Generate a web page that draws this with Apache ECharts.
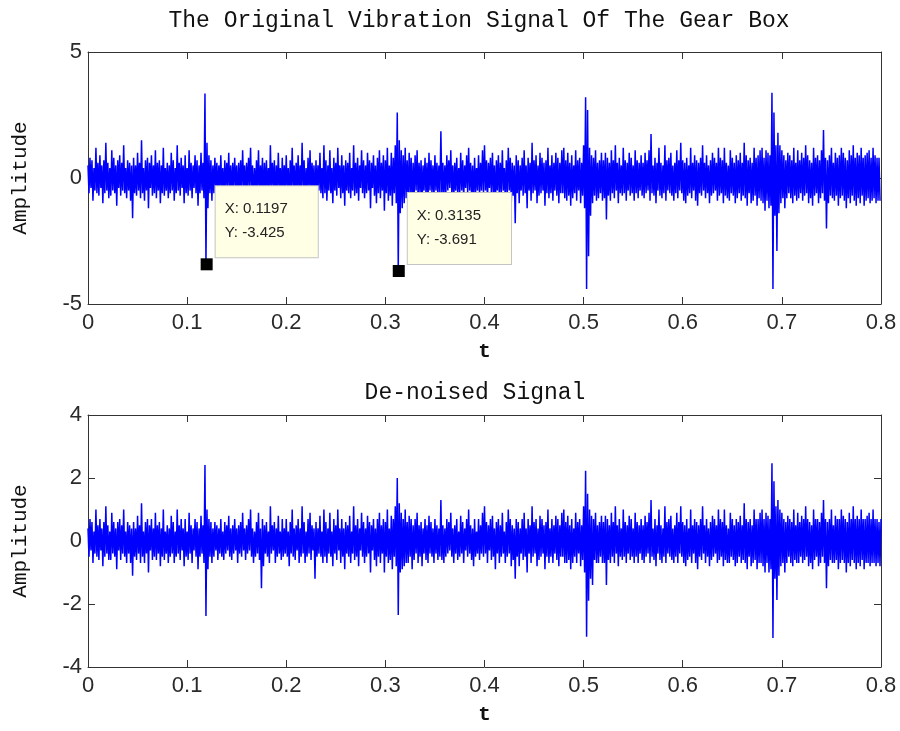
<!DOCTYPE html>
<html>
<head>
<meta charset="utf-8">
<title>Gear box vibration</title>
<script src="https://cdn.jsdelivr.net/npm/echarts@6/dist/echarts.min.js"></script>
<style>
    html, body {margin: 0; padding: 0; background: #fff;}
    #chart {width: 900px; height: 731px;}
</style>
</head>
<body>
<div id="chart"></div>
<script>
// sample spacing in seconds
var sampleStep = 0.001;
var xTicks = [0, 0.1, 0.2, 0.3, 0.4, 0.5, 0.6, 0.7, 0.8];
var topTicks = [-5, 0, 5];
var bottomTicks = [-4, -2, 0, 2, 4];

// original vibration signal (t = 0 .. 0.8)
var origSignal = [
    0.5,-0.6,0.8,-0.4,0.7,-0.9,0.4,-0.5,1.2,-0.6,0.6,-0.7,0.9,-0.4,0.5,-1.0,0.7,-0.6,1.4,-0.5,
    0.6,-0.8,0.4,-0.7,1.1,-0.5,0.8,-0.6,0.5,-1.1,0.7,-0.4,0.9,-0.7,0.6,-0.5,1.3,-0.6,0.4,-0.8,
    0.7,-0.5,0.6,-0.9,0.5,-1.6,0.8,-0.6,0.5,-0.7,1.0,-0.5,0.6,-0.8,1.5,-0.6,0.4,-0.9,0.7,-0.5,
    0.8,-1.2,0.6,-0.4,0.9,-0.7,0.5,-0.6,1.1,-0.8,0.6,-0.5,0.7,-1.0,0.5,-0.6,1.2,-0.7,0.4,-0.5,
    0.6,-0.8,0.5,-0.6,1.0,-0.5,0.7,-0.9,0.4,-0.6,1.3,-0.5,0.6,-0.7,0.8,-0.4,0.5,-1.0,0.9,-0.6,
    0.4,-0.7,1.1,-0.5,0.6,-0.8,0.5,-0.4,0.9,-0.6,0.7,-1.1,0.5,-0.6,1.0,-0.5,0.6,-0.8,3.35,-3.425,
    1.4,-1.2,0.9,-0.6,0.7,-0.9,0.5,-0.6,0.8,-0.4,0.6,-0.7,0.5,-0.5,0.9,-0.6,0.4,-0.8,0.7,
    -0.5,0.6,-0.4,1.0,-0.6,0.5,-0.7,0.6,-0.5,0.8,-0.4,0.5,-0.9,0.6,-0.5,0.7,-0.6,1.1,-0.4,0.5,
    -0.7,0.6,-0.5,0.8,-0.4,1.2,-0.6,0.5,-0.9,0.4,-0.6,0.7,-0.5,1.1,-0.7,0.5,-0.4,0.8,-1.0,0.6,
    -0.5,0.7,-0.6,0.4,-0.8,1.3,-0.5,0.6,-0.4,0.7,-0.9,0.5,-0.6,1.0,-0.5,0.4,-0.7,0.8,-0.6,0.5,
    -0.5,0.9,-0.6,0.4,-1.0,0.7,-0.5,1.2,-0.6,0.5,-0.7,0.6,-0.4,0.9,-0.8,0.5,-0.6,1.4,-0.5,0.7,
    -0.9,0.4,-0.6,0.8,-0.5,1.1,-0.7,0.6,-0.4,0.5,-1.1,0.7,-0.6,0.5,-0.5,1.0,-0.6,0.4,-0.8,1.3,
    -0.6,0.7,-0.9,0.5,-0.5,1.1,-0.6,0.4,-1.0,0.8,-0.5,0.6,-0.7,1.2,-0.4,0.5,-0.8,0.9,-0.6,0.5,
    -1.1,0.7,-0.5,0.6,-0.6,1.0,-0.8,0.4,-0.5,1.3,-0.7,0.6,-0.6,0.8,-0.9,0.5,-0.4,1.1,-0.6,0.7,
    -0.8,0.5,-0.6,1.0,-0.5,0.7,-1.2,0.6,-0.4,0.9,-0.7,0.5,-1.0,0.8,-0.6,1.1,-0.8,0.6,-0.5,0.9,
    -1.3,0.7,-0.6,1.2,-0.9,0.5,-0.7,1.0,-1.1,0.8,-0.6,1.3,-1.0,2.6,-3.691,1.5,-1.4,1.1,-1.2,0.9,
    -1.0,1.2,-0.8,0.7,-0.9,1.0,-0.6,0.8,-1.1,0.6,-0.7,0.9,-0.5,1.1,-0.8,0.6,-0.6,0.7,-1.0,0.5,
    -0.5,0.8,-0.7,0.6,-0.9,1.0,-0.5,0.7,-0.6,0.5,-0.8,0.9,-0.5,0.6,-0.7,0.5,-0.6,1.85,-0.7,0.6,
    -0.8,0.5,-0.6,0.9,-0.5,0.7,-0.4,1.1,-0.6,0.5,-0.9,0.6,-0.5,0.8,-0.7,0.4,-0.6,1.0,-0.5,0.7,
    -0.8,0.5,-0.4,0.9,-0.6,1.2,-0.5,0.6,-0.7,0.5,-1.0,0.8,-0.6,0.4,-0.5,0.9,-0.7,0.6,-0.5,1.1,
    -0.6,1.3,-0.5,0.7,-0.9,0.6,-0.4,0.8,-0.7,1.0,-0.6,0.5,-1.1,0.7,-0.5,0.9,-0.8,0.6,-0.6,1.1,
    -0.5,0.4,-0.9,0.7,-0.6,1.2,-0.5,0.8,-1.0,0.6,-0.7,0.5,-1.8,0.9,-0.6,0.7,-1.0,0.5,-0.5,0.8,
    -0.7,1.1,-0.6,0.5,-1.2,0.8,-0.5,0.6,-0.9,1.4,-0.6,0.7,-0.5,0.9,-1.0,0.5,-0.7,1.0,-0.6,0.8,
    -0.5,0.6,-1.1,0.7,-0.6,1.2,-0.8,0.5,-0.6,0.9,-0.9,0.6,-0.5,1.0,-0.7,0.8,-1.0,0.6,-0.6,1.1,
    -0.6,1.2,-0.8,0.7,-0.9,1.0,-0.7,0.6,-1.1,0.9,-0.8,0.5,-0.6,1.1,-0.9,0.7,-0.5,0.8,-1.0,0.6,
    -0.7,1.3,-1.2,3.2,-4.4,2.7,-3.1,1.2,-1.5,0.9,-1.0,0.8,-0.7,1.1,-0.9,0.6,-0.8,0.7,-0.6,1.0,
    -0.9,0.7,-0.8,1.0,-1.65,0.8,-0.7,0.6,-0.9,1.1,-0.6,0.7,-0.8,1.3,-0.5,0.6,-1.0,0.8,-0.6,
    0.5,-0.7,1.2,-0.6,0.7,-0.9,0.6,-0.5,1.0,-0.7,0.8,-0.6,0.5,-0.9,1.1,-0.6,0.7,-0.8,0.6,-0.5,
    0.9,-0.7,0.6,-0.8,1.0,-0.6,0.7,-0.5,1.1,-0.9,1.75,-0.6,0.5,-0.7,0.8,-1.0,0.6,-0.5,1.2,-0.7,
    0.6,-0.8,0.5,-0.6,1.3,-0.9,0.7,-0.5,0.8,-0.6,1.0,-0.7,0.5,-0.9,0.6,-0.6,1.1,-0.8,0.7,-0.5,
    1.4,-0.6,0.7,-0.9,0.6,-1.0,0.8,-0.7,0.5,-0.6,1.2,-0.8,0.6,-0.5,0.9,-0.9,0.7,-1.1,0.6,-0.6,
    0.8,-0.7,1.3,-0.5,0.6,-0.8,0.9,-0.6,0.5,-1.0,0.7,-0.7,1.0,-0.6,0.8,-0.5,0.6,-0.9,1.2,-0.7,
    0.8,-0.6,0.7,-1.0,1.2,-0.7,0.6,-0.8,0.5,-0.9,1.1,-0.6,0.8,-0.7,0.6,-1.0,0.9,-0.8,0.7,-0.6,
    1.0,-0.9,0.6,-0.7,1.4,-0.8,0.9,-1.1,0.7,-0.6,0.8,-1.0,0.6,-0.9,1.2,-0.7,0.8,-1.1,0.9,-0.8,
    1.1,-0.9,1.2,-1.0,0.8,-1.3,1.1,-0.9,1.0,-1.2,0.9,-1.1,3.38,-4.4,2.6,-1.5,1.3,-2.9,1.8,
    -1.4,1.3,-1.0,1.1,-0.8,0.9,-1.2,0.7,-0.8,1.0,-0.6,0.9,-0.8,0.7,-1.0,1.2,-0.7,0.6,-0.9,1.1,
    -0.8,0.7,-0.6,1.0,-0.9,0.8,-0.7,1.3,-0.6,0.9,-1.0,0.7,-0.8,0.6,-1.1,1.2,-0.7,0.8,-0.6,0.9,
    -1.0,0.7,-0.8,1.1,-0.6,1.9,-0.9,0.8,-2.0,0.7,-1.0,0.9,-0.7,1.2,-0.8,0.6,-0.9,1.0,-0.7,0.8,
    -1.1,0.9,-0.8,1.2,-0.7,1.0,-0.9,0.8,-1.2,0.7,-0.8,1.1,-1.0,0.9,-0.7,1.3,-0.9,0.8,-1.1,1.0,
    -0.8,0.9,-1.0,1.2,-0.7,0.8,-1.1,0.9,-0.9,1.0,-0.8,1.1,-1.0,0.8,-0.9,1.2,-0.8,0.9,-1.0,0.8,
    -0.9,0.8,-0.9
];

// de-noised signal (same sampling)
var denoisedSignal = [
    0.4,-0.5,0.7,-0.3,0.6,-0.7,0.3,-0.4,1.0,-0.5,0.5,-0.6,0.7,-0.3,0.4,-0.8,0.6,-0.5,1.1,-0.4,
    0.5,-0.6,0.3,-0.6,0.9,-0.4,0.6,-0.5,0.4,-0.9,0.6,-0.3,0.7,-0.6,0.5,-0.4,1.0,-0.5,0.3,-0.7,
    0.6,-0.4,0.5,-0.7,0.4,-1.1,0.6,-0.5,0.4,-0.6,0.8,-0.4,0.5,-0.7,1.2,-0.5,0.3,-0.7,0.6,-0.4,
    0.7,-1.0,0.5,-0.3,0.7,-0.6,0.4,-0.5,0.9,-0.6,0.5,-0.4,0.6,-0.8,0.4,-0.5,1.0,-0.6,0.3,-0.4,
    0.5,-0.7,0.4,-0.5,0.8,-0.4,0.6,-0.7,0.3,-0.5,1.0,-0.4,0.5,-0.6,0.7,-0.3,0.4,-0.8,0.7,-0.5,
    0.3,-0.6,0.9,-0.4,0.5,-0.7,0.4,-0.3,0.7,-0.5,0.6,-0.9,0.4,-0.5,0.8,-0.4,0.5,-0.7,2.41,-2.38,
    1.0,-0.9,0.7,-0.5,0.6,-0.7,0.4,-0.5,0.6,-0.3,0.5,-0.6,0.4,-0.4,0.7,-0.5,0.3,-0.6,0.6,
    -0.4,0.5,-0.3,0.8,-0.5,0.4,-0.6,0.5,-0.4,0.7,-0.3,0.4,-0.7,0.5,-0.4,0.6,-0.5,0.9,-0.3,0.4,
    -0.6,0.5,-0.4,0.7,-0.3,1.0,-0.5,0.4,-0.7,0.3,-0.5,0.6,-0.4,0.9,-0.6,0.4,-1.5,0.7,-0.8,0.5,
    -0.4,0.6,-0.5,0.3,-0.7,1.1,-0.4,0.5,-0.3,0.6,-0.7,0.4,-0.5,0.8,-0.4,0.3,-0.6,0.7,-0.5,0.4,
    -0.4,0.7,-0.5,0.3,-0.8,0.6,-0.4,1.0,-0.5,0.4,-0.6,0.5,-0.3,0.7,-0.7,0.4,-0.5,1.1,-0.4,0.6,
    -0.7,0.3,-0.5,0.7,-0.4,0.9,-0.6,0.5,-0.3,0.4,-1.2,0.6,-0.5,0.4,-0.4,0.8,-0.5,0.3,-0.7,1.0,
    -0.5,0.6,-0.7,0.4,-0.4,0.9,-0.5,0.3,-0.8,0.7,-0.4,0.5,-0.6,1.0,-0.3,0.4,-0.7,0.7,-0.5,0.4,
    -0.9,0.6,-0.4,0.5,-0.5,0.8,-0.7,0.3,-0.4,1.1,-0.6,0.5,-0.5,0.7,-0.8,0.4,-0.3,0.9,-0.5,0.6,
    -0.7,0.4,-0.5,0.8,-0.4,0.6,-1.0,0.5,-0.3,0.7,-0.6,0.4,-0.8,0.7,-0.5,0.9,-0.7,0.5,-0.4,0.7,
    -1.0,0.6,-0.5,1.0,-0.7,0.4,-0.6,0.8,-0.9,0.7,-0.5,1.1,-0.8,2.0,-2.35,1.2,-1.0,0.9,-0.9,0.7,
    -0.8,1.0,-0.7,0.6,-0.7,0.8,-0.5,0.7,-0.9,0.5,-0.6,0.7,-0.4,0.9,-0.7,0.5,-0.5,0.6,-0.8,0.4,
    -0.4,0.7,-0.6,0.5,-0.7,0.8,-0.4,0.6,-0.5,0.4,-0.7,0.7,-0.4,0.5,-0.6,0.4,-0.5,1.3,-0.6,0.5,
    -0.7,0.4,-0.5,0.7,-0.4,0.6,-0.3,0.9,-0.5,0.4,-0.7,0.5,-0.4,0.7,-0.6,0.3,-0.5,0.8,-0.4,0.6,
    -0.7,0.4,-0.3,0.7,-0.5,1.0,-0.4,0.5,-0.6,0.4,-0.8,0.7,-0.5,0.3,-0.4,0.7,-0.6,0.5,-0.4,0.9,
    -0.5,1.1,-0.4,0.6,-0.7,0.5,-0.3,0.7,-0.6,0.8,-0.5,0.4,-0.9,0.6,-0.4,0.7,-0.7,0.5,-0.5,0.9,
    -0.4,0.3,-0.7,0.6,-0.5,1.0,-0.4,0.7,-0.8,0.5,-0.6,0.4,-1.2,0.7,-0.5,0.6,-0.8,0.4,-0.4,0.7,
    -0.6,0.9,-0.5,0.4,-1.0,0.7,-0.4,0.5,-0.7,1.1,-0.5,0.6,-0.4,0.7,-0.8,0.4,-0.6,0.8,-0.5,0.7,
    -0.4,0.5,-0.9,0.6,-0.5,1.0,-0.7,0.4,-0.5,0.7,-0.7,0.5,-0.4,0.8,-0.6,0.7,-0.8,0.5,-0.5,0.9,
    -0.5,1.0,-0.7,0.6,-0.7,0.8,-0.6,0.5,-0.9,0.7,-0.7,0.4,-0.5,0.9,-0.7,0.6,-0.4,0.7,-0.8,0.5,
    -0.6,1.1,-1.0,2.23,-3.04,1.5,-1.9,1.0,-1.2,0.8,-1.4,0.7,-0.6,0.9,-0.7,0.5,-0.7,0.6,-0.5,0.8,
    -0.7,0.6,-0.7,0.8,-1.4,0.7,-0.6,0.5,-0.7,0.9,-0.5,0.6,-0.7,1.1,-0.4,0.5,-0.8,0.7,-0.5,
    0.4,-0.6,1.0,-0.5,0.6,-0.7,0.5,-0.4,0.8,-0.6,0.7,-0.5,0.4,-0.7,0.9,-0.5,0.6,-0.7,0.5,-0.4,
    0.7,-0.6,0.5,-0.7,0.8,-0.5,0.6,-0.4,0.9,-0.7,1.3,-0.5,0.4,-0.6,0.7,-0.8,0.5,-0.4,1.0,-0.6,
    0.5,-0.7,0.4,-0.5,1.1,-0.7,0.6,-0.4,0.7,-0.5,0.8,-0.6,0.4,-0.7,0.5,-0.5,0.9,-0.7,0.6,-0.4,
    1.1,-0.5,0.6,-0.7,0.5,-0.8,0.7,-0.6,0.4,-0.5,1.0,-0.7,0.5,-0.4,0.7,-0.7,0.6,-0.9,0.5,-0.5,
    0.7,-0.6,1.1,-0.4,0.5,-0.7,0.7,-0.5,0.4,-0.8,0.6,-0.6,0.8,-0.5,0.7,-0.4,0.5,-0.7,1.0,-0.6,
    0.7,-0.5,0.6,-0.8,1.0,-0.6,0.5,-0.7,0.4,-0.7,0.9,-0.5,0.7,-0.6,0.5,-0.8,0.7,-0.7,0.6,-0.5,
    0.8,-0.7,0.5,-0.6,1.2,-0.7,0.7,-0.9,0.6,-0.5,0.7,-0.8,0.5,-0.7,1.0,-0.6,0.7,-0.9,0.7,-0.7,
    0.9,-0.7,1.0,-0.8,0.7,-1.0,0.9,-0.7,0.8,-1.0,0.7,-0.9,2.47,-3.08,1.9,-1.2,1.1,-1.87,1.3,
    -1.1,1.0,-0.8,0.9,-0.7,0.7,-1.0,0.6,-0.7,0.8,-0.5,0.7,-0.7,0.6,-0.8,1.0,-0.6,0.5,-0.7,0.9,
    -0.7,0.6,-0.5,0.8,-0.7,0.7,-0.6,1.1,-0.5,0.7,-0.8,0.6,-0.7,0.5,-0.9,1.0,-0.6,0.7,-0.5,0.7,
    -0.8,0.6,-0.7,0.9,-0.5,1.3,-0.7,0.7,-1.5,0.6,-0.8,0.7,-0.6,1.0,-0.7,0.5,-0.7,0.8,-0.6,0.7,
    -0.9,0.7,-0.7,1.0,-0.6,0.8,-0.7,0.7,-1.0,0.6,-0.7,0.9,-0.8,0.7,-0.6,1.1,-0.7,0.7,-0.9,0.8,
    -0.7,0.7,-0.8,1.0,-0.6,0.7,-0.9,0.7,-0.7,0.8,-0.7,0.9,-0.8,0.7,-0.7,1.0,-0.7,0.7,-0.8,0.7,
    -0.7,0.6,-0.8,0.7
];

// data tips shown on the top plot
var tipX = [0.1197, 0.3135];
var tipY = [-3.425, -3.691];

var myChart = echarts.init(document.getElementById('chart'));

function toPairs(values) {
    var out = [];
    for (var i = 0; i < values.length; i++) {
        out.push([+(i * sampleStep).toFixed(4), values[i]]);
    }
    return out;
}

var tipData = [];
for (var k = 0; k < tipX.length; k++) {
    tipData.push({
        coord: [tipX[k], tipY[k]],
        value: 'X: ' + tipX[k] + '\nY: ' + tipY[k]
    });
}

var monoFont = '"Liberation Mono", "DejaVu Sans Mono", monospace';
var sansFont = '"Liberation Sans", Arial, sans-serif';
var axisColor = '#333';

function boxLine() {
    return {show: true, onZero: false, lineStyle: {color: axisColor, width: 1}};
}

function boxTick() {
    return {show: true, inside: true, length: 7, lineStyle: {color: axisColor}};
}

function bottomAxis(gridIndex) {
    return {
        type: 'value',
        gridIndex: gridIndex,
        position: 'bottom',
        min: xTicks[0],
        max: xTicks[xTicks.length - 1],
        interval: 0.1,
        name: 't',
        nameLocation: 'middle',
        nameGap: 37,
        nameTextStyle: {fontFamily: monoFont, fontSize: 21, color: '#111', fontWeight: 'bold'},
        axisLine: boxLine(),
        axisTick: boxTick(),
        axisLabel: {
            margin: 8,
            fontFamily: sansFont,
            fontSize: 22,
            color: '#2a2a2a',
            formatter: function (v) { return String(+v.toFixed(1)); }
        },
        splitLine: {show: false}
    };
}

function topAxis(gridIndex) {
    return {
        type: 'value',
        gridIndex: gridIndex,
        position: 'top',
        min: xTicks[0],
        max: xTicks[xTicks.length - 1],
        interval: 0.1,
        axisLine: boxLine(),
        axisTick: boxTick(),
        axisLabel: {show: false},
        splitLine: {show: false}
    };
}

function leftAxis(gridIndex, ticks) {
    return {
        type: 'value',
        gridIndex: gridIndex,
        position: 'left',
        min: ticks[0],
        max: ticks[ticks.length - 1],
        interval: ticks[1] - ticks[0],
        name: 'Amplitude',
        nameLocation: 'middle',
        nameGap: 57,
        nameRotate: 90,
        nameTextStyle: {fontFamily: monoFont, fontSize: 21, color: '#111'},
        axisLine: boxLine(),
        axisTick: boxTick(),
        axisLabel: {margin: 6, fontFamily: sansFont, fontSize: 22, color: '#2a2a2a'},
        splitLine: {show: false}
    };
}

function rightAxis(gridIndex, ticks) {
    return {
        type: 'value',
        gridIndex: gridIndex,
        position: 'right',
        min: ticks[0],
        max: ticks[ticks.length - 1],
        interval: ticks[1] - ticks[0],
        axisLine: boxLine(),
        axisTick: boxTick(),
        axisLabel: {show: false},
        splitLine: {show: false}
    };
}

var option = {
    animation: false,
    backgroundColor: '#fff',
    title: [
        {
            text: 'The Original Vibration Signal Of The Gear Box',
            left: 479,
            top: 9,
            padding: 0,
            textAlign: 'center',
            textStyle: {fontFamily: monoFont, fontSize: 23, fontWeight: 'normal', color: '#111'}
        },
        {
            text: 'De-noised Signal',
            left: 475,
            top: 381,
            padding: 0,
            textAlign: 'center',
            textStyle: {fontFamily: monoFont, fontSize: 23, fontWeight: 'normal', color: '#111'}
        }
    ],
    grid: [
        {left: 88, top: 52, right: 19, height: 252, containLabel: false},
        {left: 88, top: 415, right: 19, height: 252, containLabel: false}
    ],
    xAxis: [bottomAxis(0), topAxis(0), bottomAxis(1), topAxis(1)],
    yAxis: [leftAxis(0, topTicks), rightAxis(0, topTicks), leftAxis(1, bottomTicks), rightAxis(1, bottomTicks)],
    series: [
        {
            name: 'original',
            type: 'line',
            xAxisIndex: 0,
            yAxisIndex: 0,
            data: toPairs(origSignal),
            showSymbol: false,
            symbol: 'none',
            sampling: null,
            lineStyle: {color: '#0000ff', width: 1.5},
            markPoint: {
                symbol: 'rect',
                symbolSize: 12,
                itemStyle: {color: '#000'},
                label: {
                    show: true,
                    position: [15, -72],
                    align: 'left',
                    verticalAlign: 'top',
                    formatter: '{c}',
                    fontFamily: sansFont,
                    fontSize: 15,
                    lineHeight: 24,
                    color: '#222',
                    backgroundColor: '#ffffe6',
                    borderColor: '#c4c4c4',
                    borderWidth: 1,
                    padding: [11, 30, 12, 9]
                },
                data: tipData
            }
        },
        {
            name: 'denoised',
            type: 'line',
            xAxisIndex: 2,
            yAxisIndex: 2,
            data: toPairs(denoisedSignal),
            showSymbol: false,
            symbol: 'none',
            sampling: null,
            lineStyle: {color: '#0000ff', width: 1.5}
        }
    ]
};
myChart.setOption(option);
</script>
</body>
</html>
